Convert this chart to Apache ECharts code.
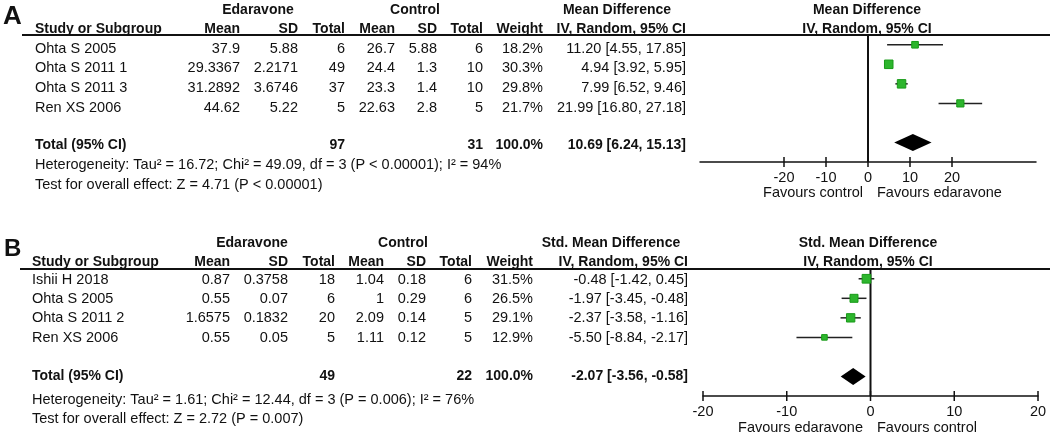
<!DOCTYPE html>
<html><head><meta charset="utf-8">
<script src="https://cdn.jsdelivr.net/npm/echarts@6/dist/echarts.min.js"></script>
<style>html,body{margin:0;padding:0;background:#fff}#c{width:1052px;height:438px}</style>
</head><body><div id="c"></div><script>
// ---------- Panel A data ----------
const studiesA = ['Ohta S 2005', 'Ohta S 2011 1', 'Ohta S 2011 3', 'Ren XS 2006'];
const edaMeanA = ['37.9', '29.3367', '31.2892', '44.62'];
const edaSdA = ['5.88', '2.2171', '3.6746', '5.22'];
const edaTotalA = [6, 49, 37, 5];
const ctlMeanA = ['26.7', '24.4', '23.3', '22.63'];
const ctlSdA = ['5.88', '1.3', '1.4', '2.8'];
const ctlTotalA = [6, 10, 10, 5];
const weightA = [18.2, 30.3, 29.8, 21.7];
const estA = [11.20, 4.94, 7.99, 21.99];
const lowA = [4.55, 3.92, 6.52, 16.80];
const highA = [17.85, 5.95, 9.46, 27.18];
const totalsA = [97, 31];
const pooledA = [10.69, 6.24, 15.13];
const hetA = 'Heterogeneity: Tau² = 16.72; Chi² = 49.09, df = 3 (P < 0.00001); I² = 94%';
const testA = 'Test for overall effect: Z = 4.71 (P < 0.00001)';
const ticksA = [-20, -10, 0, 10, 20];
const rangeA = [-40, 40];
const favoursA = ['Favours control', 'Favours edaravone'];

// ---------- Panel B data ----------
const studiesB = ['Ishii H 2018', 'Ohta S 2005', 'Ohta S 2011 2', 'Ren XS 2006'];
const edaMeanB = ['0.87', '0.55', '1.6575', '0.55'];
const edaSdB = ['0.3758', '0.07', '0.1832', '0.05'];
const edaTotalB = [18, 6, 20, 5];
const ctlMeanB = ['1.04', '1', '2.09', '1.11'];
const ctlSdB = ['0.18', '0.29', '0.14', '0.12'];
const ctlTotalB = [6, 6, 5, 5];
const weightB = [31.5, 26.5, 29.1, 12.9];
const estB = [-0.48, -1.97, -2.37, -5.50];
const lowB = [-1.42, -3.45, -3.58, -8.84];
const highB = [0.45, -0.48, -1.16, -2.17];
const totalsB = [49, 22];
const pooledB = [-2.07, -3.56, -0.58];
const hetB = 'Heterogeneity: Tau² = 1.61; Chi² = 12.44, df = 3 (P = 0.006); I² = 76%';
const testB = 'Test for overall effect: Z = 2.72 (P = 0.007)';
const ticksB = [-20, -10, 0, 10, 20];
const rangeB = [-20, 20];
const favoursB = ['Favours edaravone', 'Favours control'];

// ---------- layout ----------
const FONT = '"Liberation Sans", Arial, sans-serif';
const FS = 14.5;
const FSB = 14;
const INK = '#111';
const ROW_MIN = -0.5, ROW_MAX = 6, TOTAL_ROW = 5;

const layA = {
  letter: ['A', 3, 17, 26], line: [22, 35, 1050],
  cols: [35, 240, 298, 345, 395, 437, 483, 543, 686],
  groups: [258, 415, 617], plotHead: 867,
  hy: [10, 29], rows: [49, 68, 88, 108], total: 145, het: 165, test: 185,
  fav: [863, 877, 193]
};
const layB = {
  letter: ['B', 4, 249, 24], line: [20, 269, 1050],
  cols: [32, 230, 288, 335, 384, 426, 472, 533, 688],
  groups: [252, 403, 611], plotHead: 868,
  hy: [243, 262], rows: [280, 299, 318, 338], total: 376, het: 400, test: 419,
  fav: [863, 877, 428]
};

function T(text, x, y, align, bold, size) {
  const a = align || 'left';
  return { type: 'text', x: x, y: y, silent: true, z: 10,
    style: { text: String(text), fill: INK, font: (bold ? 'bold ' : '') + (size || (bold ? FSB : FS)) + 'px ' + FONT,
      textAlign: a, align: a, textVerticalAlign: 'middle', verticalAlign: 'middle' } };
}
const ci = (e, l, h) => e.toFixed(2) + ' [' + l.toFixed(2) + ', ' + h.toFixed(2) + ']';

function tableGraphics(L, d) {
  const g = [];
  const c = L.cols;
  g.push(T(L.letter[0], L.letter[1], L.letter[2], 'left', true, L.letter[3]));
  g.push({ type: 'line', silent: true, shape: { x1: L.line[0], y1: L.line[1], x2: L.line[2], y2: L.line[1] },
    style: { stroke: INK, lineWidth: 2 } });
  g.push(T('Edaravone', L.groups[0], L.hy[0], 'center', true));
  g.push(T('Control', L.groups[1], L.hy[0], 'center', true));
  g.push(T(d.effect, L.groups[2], L.hy[0], 'center', true));
  g.push(T(d.effect, L.plotHead, L.hy[0], 'center', true));
  g.push(T('IV, Random, 95% CI', L.plotHead, L.hy[1], 'center', true));
  const heads = ['Study or Subgroup', 'Mean', 'SD', 'Total', 'Mean', 'SD', 'Total', 'Weight', 'IV, Random, 95% CI'];
  heads.forEach((h, i) => g.push(T(h, c[i], L.hy[1], i === 0 ? 'left' : 'right', true)));
  d.studies.forEach((s, i) => {
    const y = L.rows[i];
    const vals = [s, d.em[i], d.es[i], d.et[i], d.cm[i], d.cs[i], d.ct[i], d.w[i].toFixed(1) + '%', ci(d.est[i], d.lo[i], d.hi[i])];
    vals.forEach((v, j) => g.push(T(v, c[j], y, j === 0 ? 'left' : 'right', false)));
  });
  g.push(T('Total (95% CI)', c[0], L.total, 'left', true));
  g.push(T(d.tot[0], c[3], L.total, 'right', true));
  g.push(T(d.tot[1], c[6], L.total, 'right', true));
  g.push(T('100.0%', c[7], L.total, 'right', true));
  g.push(T(ci(d.pool[0], d.pool[1], d.pool[2]), c[8], L.total, 'right', true));
  g.push(T(d.het, c[0], L.het, 'left', false));
  g.push(T(d.test, c[0], L.test, 'left', false));
  g.push(T(d.fav[0], L.fav[0], L.fav[2], 'right', false));
  g.push(T(d.fav[1], L.fav[1], L.fav[2], 'left', false));
  return g;
}

const graphics = tableGraphics(layA, { effect: 'Mean Difference', studies: studiesA, em: edaMeanA, es: edaSdA, et: edaTotalA,
  cm: ctlMeanA, cs: ctlSdA, ct: ctlTotalA, w: weightA, est: estA, lo: lowA, hi: highA, tot: totalsA, pool: pooledA,
  het: hetA, test: testA, fav: favoursA })
  .concat(tableGraphics(layB, { effect: 'Std. Mean Difference', studies: studiesB, em: edaMeanB, es: edaSdB, et: edaTotalB,
  cm: ctlMeanB, cs: ctlSdB, ct: ctlTotalB, w: weightB, est: estB, lo: lowB, hi: highB, tot: totalsB, pool: pooledB,
  het: hetB, test: testB, fav: favoursB }));

// ---------- render helpers ----------
function studyRender(params, api) {
  const e = api.value(0), lo = api.value(1), hi = api.value(2), r = api.value(3), sz = api.value(4);
  const p = api.coord([e, r]), a = api.coord([lo, r]), b = api.coord([hi, r]);
  return { type: 'group', children: [
    { type: 'line', shape: { x1: a[0], y1: a[1], x2: b[0], y2: b[1] }, style: { stroke: '#222', lineWidth: 1.5 } },
    { type: 'rect', shape: { x: p[0] - sz / 2, y: p[1] - sz / 2, width: sz, height: sz },
      style: { fill: '#2db52d', stroke: '#189a18', lineWidth: 1 } }
  ] };
}
function diamondRender(params, api) {
  const e = api.value(0), lo = api.value(1), hi = api.value(2), r = api.value(3);
  const p = api.coord([e, r]), a = api.coord([lo, r]), b = api.coord([hi, r]);
  const h = 8.5;
  return { type: 'polygon', shape: { points: [[a[0], a[1]], [p[0], p[1] - h], [b[0], b[1]], [p[0], p[1] + h]] },
    style: { fill: '#000' } };
}
function zeroRender(params, api) {
  const t = api.coord([api.value(0), ROW_MIN]), b = api.coord([api.value(0), ROW_MAX]);
  return { type: 'line', shape: { x1: t[0], y1: t[1], x2: b[0], y2: b[1] }, style: { stroke: INK, lineWidth: 2 } };
}
function tickRender(params, api) {
  const p = api.coord([api.value(0), ROW_MAX]);
  return { type: 'line', shape: { x1: p[0], y1: p[1] - 5, x2: p[0], y2: p[1] + 5 }, style: { stroke: INK, lineWidth: 1.5 } };
}

function xAxisFor(gi, range, ticks) {
  return { gridIndex: gi, type: 'value', min: range[0], max: range[1], interval: 10,
    axisLine: { show: true, onZero: false, lineStyle: { color: INK, width: 1.5 } },
    axisTick: { show: false }, splitLine: { show: false },
    axisLabel: { margin: 8, color: INK, fontSize: FS, fontFamily: FONT,
      formatter: v => (ticks.includes(v) ? String(v) : '') } };
}
function yAxisFor(gi) {
  return { gridIndex: gi, type: 'value', inverse: true, min: ROW_MIN, max: ROW_MAX, show: false };
}
function seriesFor(i, est, lo, hi, w, pool, ticks) {
  return [
    { type: 'custom', xAxisIndex: i, yAxisIndex: i, renderItem: zeroRender, data: [[0, 0]], silent: true, z: 2 },
    { type: 'custom', xAxisIndex: i, yAxisIndex: i, renderItem: tickRender, data: ticks.map(v => [v, ROW_MAX]), silent: true, clip: false, z: 2 },
    { type: 'custom', xAxisIndex: i, yAxisIndex: i, renderItem: studyRender, silent: true, z: 3,
      data: est.map((e, k) => [e, lo[k], hi[k], k, 1.55 * Math.sqrt(w[k])]) },
    { type: 'custom', xAxisIndex: i, yAxisIndex: i, renderItem: diamondRender, silent: true, z: 3,
      data: [[pool[0], pool[1], pool[2], TOTAL_ROW]] }
  ];
}

const chart = echarts.init(document.getElementById('c'), null, { renderer: 'canvas' });
chart.setOption({
  backgroundColor: '#fff',
  animation: false,
  grid: [
    { left: 700, top: 35, width: 336, height: 127 },
    { left: 703, top: 269, width: 335, height: 127 }
  ],
  xAxis: [xAxisFor(0, rangeA, ticksA), xAxisFor(1, rangeB, ticksB)],
  yAxis: [yAxisFor(0), yAxisFor(1)],
  series: seriesFor(0, estA, lowA, highA, weightA, pooledA, ticksA)
    .concat(seriesFor(1, estB, lowB, highB, weightB, pooledB, ticksB)),
  graphic: { elements: graphics }
});
</script></body></html>
